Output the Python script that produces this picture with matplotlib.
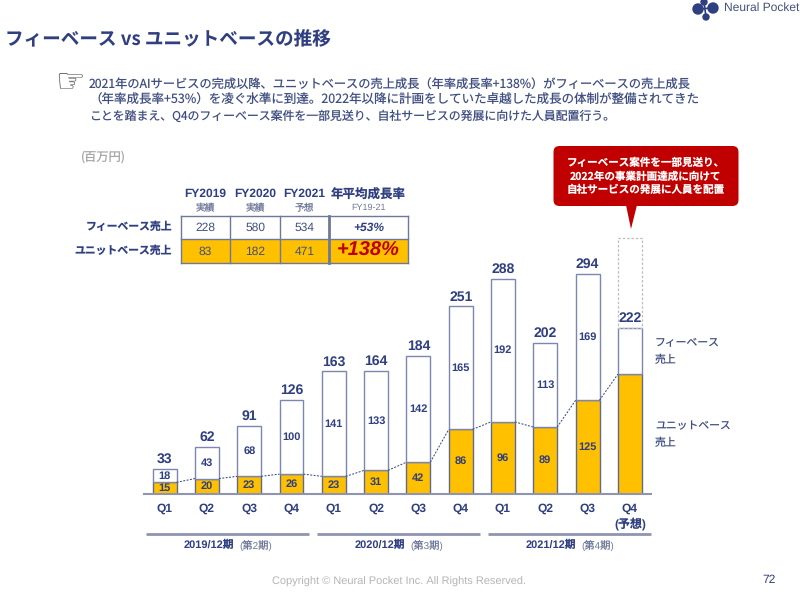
import matplotlib
matplotlib.use("Agg")
import matplotlib.pyplot as plt
from matplotlib.patches import Rectangle, FancyBboxPatch, Polygon, Circle

plt.rcParams['font.family'] = ['Noto Sans CJK JP', 'DejaVu Sans']
plt.rcParams['text.hinting'] = 'no_hinting'
plt.rcParams['text.hinting_factor'] = 1
latin = ['Liberation Sans', 'Noto Sans CJK JP']

# quarterly sales (million yen)
quarters = ['Q1', 'Q2', 'Q3', 'Q4', 'Q1', 'Q2', 'Q3', 'Q4', 'Q1', 'Q2', 'Q3', 'Q4\n(予想)']
unit_sales = [15, 20, 23, 26, 23, 31, 42, 86, 96, 89, 125, 160]
fee_sales = [18, 43, 68, 100, 141, 133, 142, 165, 192, 113, 169, 62]
totals = [33, 62, 91, 126, 163, 164, 184, 251, 288, 202, 294, 222]
plan_gap = 121  # dashed part of the last bar
hide_labels = [11]

years = ['FY2019', 'FY2020', 'FY2021']
year_sub = ['実績', '実績', '予想']
table_fee = ['228', '580', '534']
table_unit = ['83', '182', '471']
periods = ['2019/12期', '2020/12期', '2021/12期']
period_sub = ['(第2期)', '(第3期)', '(第4期)']

navy = '#2F3F7F'
edge = '#7C86B0'
gold = '#FFC000'
red = '#C00000'
W, H = 800, 595

fig = plt.figure(figsize=(8, 5.95), dpi=100, facecolor='white')

# overlay in pixel coords for the slide furniture
bg = fig.add_axes([0, 0, 1, 1])
bg.set_xlim(0, W)
bg.set_ylim(H, 0)
bg.axis('off')

bg.text(5, 40, 'フィーベース vs ユニットベースの推移', fontsize=13.4, fontweight='bold',
        color=navy, va='center', ha='left')

# logo
for cx, cy, r in [(698, 9, 5), (704, 2, 3), (713, 8, 5), (706, 17, 3)]:
    bg.add_patch(Circle((cx, cy), r, color=navy))
bg.plot([704, 706], [2, 17], color=navy, lw=1.2)
bg.plot([698, 713], [9, 8], color=navy, lw=1.2)
bg.text(724, 8, 'Neural Pocket', fontsize=8.6, color='#44507F', va='center', ha='left',
        family=['Liberation Sans'])

# comment block
bg.text(70, 83, '☞', fontsize=24, color='#444444', family=['DejaVu Sans'], ha='center', va='center')
body = ['2021年のAIサービスの完成以降、ユニットベースの売上成長（年率成長率+138%）がフィーベースの売上成長',
        '（年率成長率+53%）を凌ぐ水準に到達。2022年以降に計画をしていた卓越した成長の体制が整備されてきた',
        'ことを踏まえ、Q4のフィーベース案件を一部見送り、自社サービスの発展に向けた人員配置行う。']
body_size = [8.8, 9.0, 8.55]
for i, line in enumerate(body):
    bg.text(89, 84 + i * 16.2, line, fontsize=body_size[i], color='#404F80', va='center', ha='left')

bg.text(80, 157, '(百万円)', fontsize=8.8, color='#A6A6A6', va='center', ha='left')

# table
col_x = [181, 230.3, 280, 329.3, 408]
row_y = [215.7, 239.3, 263.3]
bg.add_patch(Rectangle((col_x[0], row_y[1]), col_x[4] - col_x[0], row_y[2] - row_y[1],
                       fc=gold, ec='none'))
for x in col_x:
    bg.plot([x, x], [row_y[0], row_y[2]], color='#6E7898', lw=2 if x == col_x[3] else 1)
for y in row_y:
    bg.plot([col_x[0], col_x[4]], [y, y], color='#6E7898', lw=1)
for i in range(3):
    cx = (col_x[i] + col_x[i + 1]) / 2
    bg.text(cx, 194, years[i], fontsize=8.7, fontweight='bold', color=navy, ha='center', va='center',
            family=latin)
    bg.text(cx, 208, year_sub[i], fontsize=7, color='#6E7898', ha='center', va='center')
    bg.text(cx, 227.5, table_fee[i], fontsize=8.6, color='#404F80', ha='center', va='center',
            family=latin)
    bg.text(cx, 251.5, table_unit[i], fontsize=8.6, color='#404F80', ha='center', va='center',
            family=latin)
tx = (col_x[3] + col_x[4]) / 2
bg.text(tx, 194, '年平均成長率', fontsize=9, fontweight='bold', color=navy, ha='center', va='center')
bg.text(tx, 208, 'FY19-21', fontsize=6.8, color='#6E7898', ha='center', va='center', family=latin)
bg.text(tx, 227.5, '+53%', fontsize=8.6, fontweight='bold', style='italic', color=navy,
        ha='center', va='center', family=latin)
bg.text(tx, 251, '+138%', fontsize=14.5, fontweight='bold', style='italic', color=red,
        ha='center', va='center', family=latin)
bg.text(172, 227, 'フィーベース売上', fontsize=7.8, fontweight='bold', color=navy, ha='right', va='center')
bg.text(172, 251, 'ユニットベース売上', fontsize=7.8, fontweight='bold', color=navy, ha='right', va='center')

# callout
bg.add_patch(FancyBboxPatch((553.5, 146), 185, 60, boxstyle='round,pad=0,rounding_size=6',
                            fc=red, ec='none'))
bg.add_patch(Polygon([(626, 205), (637, 205), (631, 229)], fc=red, ec='none'))
for i, line in enumerate(['フィーベース案件を一部見送り、', '2022年の事業計画達成に向けて',
                          '自社サービスの発展に人員を配置']):
    bg.text(646, 163 + i * 13.5, line, fontsize=7.6, fontweight='bold', color='white',
            ha='center', va='center')

# side labels
bg.text(655, 351.5, 'フィーベース\n売上', fontsize=7.8, color='#404F80', va='center', ha='left', linespacing=1.6)
bg.text(655, 434.5, 'ユニットベース\n売上', fontsize=7.8, color='#404F80', va='center', ha='left', linespacing=1.6)

# period brackets
spans = [(146, 309), (317, 480), (488, 651)]
for (a, b), p, s in zip(spans, periods, period_sub):
    bg.plot([a, b], [534, 534], color='#8F94B0', lw=2, solid_capstyle='butt')
    c = (a + b) / 2
    bg.text(c - 19, 545.5, p, fontsize=7.7, fontweight='bold', color=navy, ha='center', va='center',
            family=latin)
    bg.text(c + 28, 546, s, fontsize=7.4, color='#6E7898', ha='center', va='center', family=latin)

bg.text(399.5, 582, 'Copyright © Neural Pocket Inc. All Rights Reserved.', fontsize=8.2, color='#B5B5B5',
        ha='center', va='center', family=['Liberation Sans'])
bg.text(776, 580, '72', fontsize=8.5, color=navy, ha='right', va='center', family=['Liberation Sans'])

# the chart itself
px_per_unit = 0.746
ax_left, ax_right, ax_base, ax_top = 143.5, 651, 493.5, 200
ax = fig.add_axes([ax_left / W, 1 - ax_base / H, (ax_right - ax_left) / W, (ax_base - ax_top) / H])
ax.patch.set_alpha(0)
ax.set_xlim(-0.5, 11.5)
ax.set_ylim(0, (ax_base - ax_top) / px_per_unit)
ax.set_yticks([])
for s in ['top', 'left', 'right']:
    ax.spines[s].set_visible(False)
ax.spines['bottom'].set_color('#8F94B0')
ax.spines['bottom'].set_linewidth(1.5)

xs = list(range(len(quarters)))
bar_w = 0.565
ax.bar(xs, unit_sales, bar_w, color=gold, edgecolor='#5F6A90', linewidth=1)
ax.bar(xs, fee_sales, bar_w, bottom=unit_sales, color='white', edgecolor=edge, linewidth=1)
ax.bar([xs[-1]], [plan_gap], bar_w, bottom=[totals[-1]], color='none', edgecolor='#BDBDBD',
       linewidth=0.9, linestyle=(0, (2, 1.5)))

# dashed connectors between the gold tops
for i in range(len(xs) - 1):
    ax.plot([xs[i] + bar_w / 2, xs[i + 1] - bar_w / 2], [unit_sales[i], unit_sales[i + 1]],
            color=navy, lw=0.7, linestyle=(0, (2, 1.5)))

for i in xs:
    ax.text(xs[i], totals[i] + 4, str(totals[i]), fontsize=9.8, fontweight='bold', color=navy,
            ha='center', va='bottom', family=latin, clip_on=False)
    if i in hide_labels:
        continue
    ax.text(xs[i], unit_sales[i] / 2, str(unit_sales[i]), fontsize=8, fontweight='bold', color=navy,
            ha='center', va='center', family=latin)
    ax.text(xs[i], unit_sales[i] + fee_sales[i] / 2, str(fee_sales[i]), fontsize=8, fontweight='bold',
            color=navy, ha='center', va='center', family=latin)

ax.set_xticks(xs)
ax.set_xticklabels(quarters, fontsize=8.6, fontweight='bold', color=navy, linespacing=1.3, family=latin)
ax.tick_params(axis='x', length=0, pad=6.5)

fig.savefig('out.png', dpi=100)
